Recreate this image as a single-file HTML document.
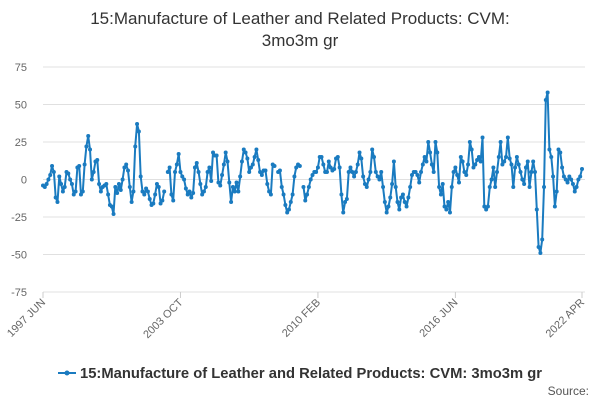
<!DOCTYPE html>
<html><head><meta charset="utf-8"><style>
body{margin:0;background:#fff;font-family:"Liberation Sans",sans-serif;}
#c{position:relative;width:600px;height:400px;overflow:hidden}
</style></head><body>
<div id="c">
<svg id="s" width="600" height="400">
<text x="300" y="24" text-anchor="middle" font-size="17" fill="#333">15:Manufacture of Leather and Related Products: CVM:</text>
<text x="300" y="46" text-anchor="middle" font-size="17" fill="#333">3mo3m gr</text>
<g id="grid"></g><g id="yl"></g><g id="xl"></g><g id="ser"></g>
<g>
<line x1="58" y1="373" x2="76" y2="373" stroke="#1a7bc0" stroke-width="2"/>
<circle cx="67" cy="373" r="2.5" fill="#1a7bc0"/>
<text x="80" y="378" font-size="14.3" font-weight="bold" fill="#333" textLength="462" lengthAdjust="spacingAndGlyphs">15:Manufacture of Leather and Related Products: CVM: 3mo3m gr</text>
</g>
<text x="589" y="395" text-anchor="end" font-size="12" fill="#555">Source:</text>
</svg></div>
<script>
const values=[-4,-5,-3,0,3,9,5,-12,-15,2,-3,-8,-5,5,4,0,-3,-10,-8,8,9,-10,-8,10,22,29,20,0,5,12,13,
-3,-8,-5,-4,-3,-10,-17,-18,-23,-5,-9,-3,-7,0,8,10,6,-5,-15,-8,22,37,32,2,
-8,-10,-6,-8,-13,-17,-16,-10,-3,-5,-16,-14,-8,null,5,8,-10,-14,5,10,17,
5,2,0,-6,-10,-8,-12,-9,8,11,5,-3,-10,-8,-5,5,8,-1,18,16,16,-2,-4,3,
10,18,12,-2,-15,-5,-8,-2,-8,2,12,20,18,14,5,8,10,15,20,13,5,3,6,6,
-3,-8,-10,10,9,null,5,6,-5,-10,-17,-22,-20,-15,-10,2,8,10,9,null,-5,-14,-10,-5,
0,3,5,5,8,15,15,10,5,5,12,8,6,7,14,15,8,-10,-22,-15,-13,5,8,5,
2,5,10,18,14,2,-3,-5,0,5,20,15,5,2,0,5,-5,-15,-22,-18,-12,-3,12,-5,
-15,-20,-12,-10,-15,-18,-12,-5,3,5,5,3,-2,5,10,15,12,25,18,10,5,25,18,-5,
-10,-3,-18,-20,-15,-22,-5,5,8,3,-2,15,12,5,3,10,25,20,8,10,13,15,12,28,
-18,-20,-18,-5,0,8,-5,5,15,25,10,12,15,28,14,10,-5,8,15,10,5,0,-3,8,12,-5,5,12,5,-20,-45,-49,-40,-5,53,58,20,15,2,-18,-8,20,18,8,2,0,-2,2,0,-3,-8,-5,0,2,7];
const yTicks=[75,50,25,0,-25,-50,-75];
const xTickLabels=["1997 JUN","2003 OCT","2010 FEB","2016 JUN","2022 APR"];
const xTickIdx=[0,76,152,228,298];
const X0=43,X1=582,Y0=179.5,K=1.5;
const N=values.length;
const xs=i=>X0+(X1-X0)*i/(N-1);
const ys=v=>Y0-v*K;
const ns="http://www.w3.org/2000/svg";
function mk(t,a,p){const e=document.createElementNS(ns,t);for(const k in a)e.setAttribute(k,a[k]);p.appendChild(e);return e;}
const grid=document.getElementById('grid'),yl=document.getElementById('yl'),xl=document.getElementById('xl'),ser=document.getElementById('ser');
yTicks.forEach(v=>{
 const g=mk('line',{x1:X0,x2:X1+3,y1:ys(v),y2:ys(v),stroke:'#e0e0e0','stroke-width':1},grid);
 
 
 const t=mk('text',{x:27,y:ys(v)+4,'text-anchor':'end','font-size':11,fill:'#666'},yl);
 t.textContent=v;
 
 
});
xTickLabels.forEach((l,j)=>{
 const x=xs(xTickIdx[j]);
 const tk=mk('line',{x1:x,x2:x,y1:292,y2:298,stroke:'#ccc'},xl);
 
 
 const t=mk('text',{x:x+3,y:303,'text-anchor':'end','font-size':11,fill:'#666',transform:`rotate(-45 ${x+3} 303)`},xl);
 t.textContent=l;
 
 
});
let d='',pen=false;
values.forEach((v,i)=>{if(v===null){pen=false;return;}d+=(pen?'L':'M')+xs(i).toFixed(1)+' '+ys(v).toFixed(1);pen=true;});
const p=mk('path',{d:d,fill:'none',stroke:'#1a7bc0','stroke-width':2,'stroke-linejoin':'round'},ser);


values.forEach((v,i)=>{if(v===null)return;
 const c=mk('circle',{cx:xs(i),cy:ys(v),r:2,fill:'#1a7bc0'},ser);
 
 
});
</script>
</body></html>
